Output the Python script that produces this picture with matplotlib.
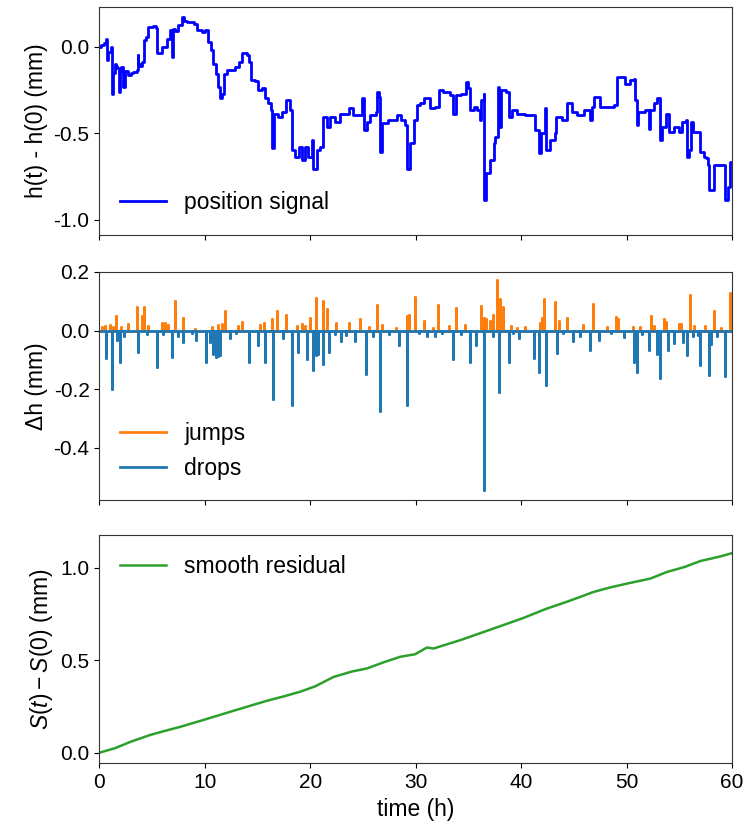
import numpy as np
import matplotlib
matplotlib.use("Agg")
import matplotlib.pyplot as plt

plt.rcParams["font.family"] = ["Liberation Sans", "DejaVu Sans"]
plt.rcParams["mathtext.fontset"] = "custom"
plt.rcParams["mathtext.rm"] = "Liberation Sans"
plt.rcParams["mathtext.it"] = "Liberation Sans:italic"
plt.rcParams["axes.unicode_minus"] = False
FS_TICK = 15
FS_TEXT = 16.5

# ---- position signal h(t) - h(0), mm ----
h_time = [0.0, 0.2, 0.45, 0.6, 0.68, 0.7, 0.85, 1.05, 1.11, 1.15, 1.17, 1.3, 1.49, 1.6, 1.7,
          1.9, 2.0, 2.06, 2.2, 2.28, 2.44, 2.75, 3.0, 3.23, 3.55, 3.64, 3.7, 3.85, 4.02, 4.27,
          4.4, 4.65, 5.13, 5.4, 5.44, 5.92, 6.39, 6.71, 6.85, 6.93, 7.02, 7.2, 7.43, 7.87, 8.0,
          8.29, 8.76, 9.0, 9.24, 9.71, 10.03, 10.28, 10.59, 10.82, 11.04, 11.23, 11.45, 11.67,
          11.86, 12.08, 12.5, 12.87, 13.25, 13.5, 13.98, 14.2, 14.39, 14.8, 15.09, 15.4, 15.72,
          16.04, 16.3, 16.42, 16.61, 16.9, 17.3, 17.68, 18.0, 18.09, 18.25, 18.56, 18.9, 19.2,
          19.5, 19.8, 20.15, 20.3, 20.62, 20.9, 21.25, 21.57, 21.9, 22.36, 22.84, 23.63, 24.1,
          24.89, 25.14, 25.4, 25.7, 26.2, 26.32, 26.5, 26.63, 26.83, 27.4, 28.2, 28.6, 29.0,
          29.16, 29.48, 29.8, 30.11, 30.43, 30.74, 30.9, 31.38, 31.85, 32.17, 32.6, 33.27,
          33.53, 33.84, 34.3, 34.8, 35.0, 35.17, 35.5, 35.8, 36.06, 36.18, 36.45, 36.5, 36.69,
          37.07, 37.39, 37.55, 37.76, 37.92, 38.1, 38.58, 38.81, 39.1, 39.6, 40.39, 41.2,
          41.34, 41.66, 41.9, 42.29, 42.38, 42.76, 43.2, 43.33, 43.87, 44.35, 44.8, 45.29,
          45.92, 46.4, 46.56, 46.7, 46.87, 47.35, 47.5, 48.3, 48.77, 49.09, 49.7, 49.88, 50.3,
          50.67, 50.82, 50.98, 51.1, 51.77, 52.09, 52.2, 52.56, 52.88, 53.13, 53.35, 53.77,
          54.0, 54.5, 54.94, 55.25, 55.6, 55.73, 55.95, 56.1, 56.3, 56.85, 57.0, 57.3, 57.57,
          57.7, 57.78, 58.1, 58.26, 59.2, 59.36, 59.6, 59.84, 60.0]
h_value = [0.0, 0.01, 0.02, 0.043, 0.043, -0.077, -0.03, -0.03, 0.0, 0.0, -0.27, -0.15, -0.096,
           -0.11, -0.12, -0.26, -0.14, -0.115, -0.14, -0.23, -0.14, -0.163, -0.15, -0.144,
           -0.135, -0.048, -0.1, -0.11, -0.085, 0.039, 0.06, 0.115, 0.12, 0.11, -0.038, 0.0,
           0.043, 0.096, 0.09, -0.058, 0.106, 0.09, 0.125, 0.173, 0.15, 0.144, 0.144, 0.135,
           0.096, 0.087, 0.096, 0.029, -0.019, -0.096, -0.154, -0.23, -0.298, -0.27, -0.154,
           -0.135, -0.135, -0.115, -0.087, -0.038, -0.048, -0.087, -0.192, -0.2, -0.25, -0.24,
           -0.298, -0.327, -0.365, -0.587, -0.385, -0.404, -0.375, -0.308, -0.308, -0.365,
           -0.597, -0.635, -0.58, -0.654, -0.58, -0.635, -0.539, -0.703, -0.597, -0.578,
           -0.404, -0.462, -0.404, -0.433, -0.385, -0.356, -0.394, -0.298, -0.481, -0.433,
           -0.394, -0.375, -0.26, -0.29, -0.606, -0.442, -0.423, -0.394, -0.423, -0.452,
           -0.703, -0.558, -0.423, -0.337, -0.327, -0.298, -0.298, -0.356, -0.35, -0.25, -0.26,
           -0.279, -0.385, -0.279, -0.27, -0.202, -0.24, -0.365, -0.346, -0.365, -0.423,
           -0.308, -0.27, -0.885, -0.731, -0.654, -0.558, -0.52, -0.231, -0.462, -0.25, -0.26,
           -0.404, -0.365, -0.385, -0.394, -0.394, -0.481, -0.616, -0.5, -0.356, -0.597,
           -0.539, -0.5, -0.404, -0.423, -0.327, -0.375, -0.394, -0.365, -0.365, -0.423,
           -0.346, -0.289, -0.292, -0.346, -0.346, -0.337, -0.173, -0.173, -0.212, -0.192,
           -0.183, -0.308, -0.452, -0.375, -0.365, -0.472, -0.365, -0.327, -0.298, -0.539,
           -0.462, -0.385, -0.49, -0.462, -0.49, -0.433, -0.423, -0.635, -0.597, -0.433, -0.49,
           -0.49, -0.606, -0.635, -0.645, -0.683, -0.827, -0.827, -0.683, -0.683, -0.885,
           -0.81, -0.664, -0.664]

# ---- detected jumps and drops, mm ----
jump_time = [0.23, 0.54, 1.0, 1.3, 1.58, 2.06, 2.75, 3.55, 4.02, 4.27, 4.65, 5.92, 6.23, 6.5,
             7.18, 7.97, 9.05, 10.7, 11.3, 11.61, 11.93, 13.19, 13.51, 15.25, 15.66, 16.35,
             16.83, 17.68, 18.72, 19.2, 19.5, 19.99, 20.5, 21.19, 21.57, 22.46, 23.63, 24.74,
             25.53, 26.32, 26.8, 28.1, 29.16, 29.38, 29.89, 30.74, 31.6, 32.1, 33.2, 33.84,
             34.7, 36.2, 36.5, 36.7, 37.0, 37.29, 37.7, 37.95, 38.27, 39.06, 39.6, 40.39, 41.8,
             41.97, 42.19, 43.17, 43.62, 44.35, 45.9, 46.81, 48.1, 49.03, 49.2, 50.6, 51.3,
             52.31, 52.6, 53.58, 53.7, 55.0, 55.2, 56.04, 56.4, 57.41, 58.26, 58.9, 59.84]
jump_size = [0.011, 0.016, 0.018, 0.013, 0.051, 0.011, 0.022, 0.079, 0.051, 0.079, 0.016,
             0.026, 0.026, 0.018, 0.099, 0.044, 0.006, 0.011, 0.018, 0.022, 0.065, 0.016,
             0.028, 0.018, 0.024, 0.04, 0.068, 0.054, 0.016, 0.022, 0.016, 0.044, 0.11, 0.102,
             0.074, 0.026, 0.025, 0.04, 0.011, 0.087, 0.02, 0.008, 0.051, 0.054, 0.113, 0.034,
             0.008, 0.088, 0.016, 0.077, 0.018, 0.085, 0.044, 0.04, 0.034, 0.054, 0.174, 0.108,
             0.079, 0.016, 0.008, 0.011, 0.026, 0.044, 0.106, 0.097, 0.034, 0.044, 0.018,
             0.091, 0.011, 0.047, 0.04, 0.011, 0.011, 0.05, 0.016, 0.04, 0.028, 0.022, 0.022,
             0.121, 0.016, 0.016, 0.068, 0.01, 0.127]

drop_time = [0.64, 1.17, 1.65, 1.93, 2.31, 3.7, 4.49, 5.44, 6.08, 6.93, 7.5, 7.97, 8.76, 9.14,
             10.09, 10.5, 10.82, 11.04, 11.23, 11.45, 12.4, 13.0, 14.2, 15.02, 15.72, 16.51,
             17.46, 18.31, 18.88, 19.73, 20.3, 20.56, 20.78, 21.25, 21.79, 22.36, 22.9, 23.4,
             24.2, 25.27, 25.94, 26.57, 27.5, 28.46, 29.13, 30.3, 31.06, 31.85, 32.5, 33.53,
             34.3, 35.11, 35.74, 36.43, 37.32, 37.86, 38.81, 39.2, 39.76, 41.18, 41.66, 42.38,
             43.39, 44.0, 44.91, 45.6, 46.56, 47.41, 48.5, 49.72, 50.67, 50.98, 51.5, 52.09,
             52.88, 53.2, 53.92, 54.52, 55.35, 55.73, 56.3, 56.8, 57.0, 57.78, 58.0, 58.6, 59.36]
drop_size = [-0.094, -0.201, -0.031, -0.108, -0.017, -0.072, -0.011, -0.125, -0.011, -0.091,
             -0.02, -0.04, -0.01, -0.034, -0.106, -0.04, -0.08, -0.091, -0.086, -0.083, -0.026,
             -0.01, -0.108, -0.049, -0.106, -0.235, -0.026, -0.253, -0.072, -0.097, -0.133,
             -0.085, -0.079, -0.114, -0.072, -0.011, -0.037, -0.015, -0.037, -0.148, -0.02,
             -0.275, -0.012, -0.05, -0.253, -0.01, -0.02, -0.02, -0.01, -0.097, -0.012, -0.106,
             -0.05, -0.543, -0.02, -0.21, -0.108, -0.01, -0.026, -0.094, -0.14, -0.185, -0.075,
             -0.008, -0.035, -0.02, -0.068, -0.031, -0.01, -0.023, -0.108, -0.142, -0.012,
             -0.068, -0.08, -0.163, -0.065, -0.042, -0.04, -0.085, -0.02, -0.015, -0.117,
             -0.153, -0.046, -0.02, -0.156]

# ---- smooth residual S(t) - S(0), mm ----
s_time = [0, 1.5, 3, 4.81, 6.2, 7.66, 10.03, 12.72, 15.88, 17.5, 19.04, 20.5, 22.2, 24,
          25.37, 27, 28.53, 29.95, 31.06, 31.7, 34.22, 37.38, 40.07, 42.44, 44.5, 46.87, 48.5,
          50.03, 52.24, 53.83, 55.5, 56.99, 58.89, 60]
s_value = [0, 0.025, 0.06, 0.096, 0.118, 0.14, 0.18, 0.227, 0.281, 0.305, 0.33, 0.36, 0.41,
           0.44, 0.456, 0.49, 0.519, 0.533, 0.569, 0.564, 0.609, 0.672, 0.726, 0.78, 0.82,
           0.87, 0.895, 0.915, 0.942, 0.978, 1.005, 1.037, 1.062, 1.08]

T_END = 60.0


def spike_series(times, sizes, t_end):
    """Zero baseline with a one-sample spike at each event time."""
    xs, ys = [0.0], [0.0]
    for t, v in zip(times, sizes):
        xs += [t, t, t]
        ys += [0.0, v, 0.0]
    xs.append(t_end)
    ys.append(0.0)
    return np.array(xs), np.array(ys)


fig = plt.figure(figsize=(7.45, 8.25), dpi=100)
left, width, height = 0.1333, 0.8494, 0.2772
ax1 = fig.add_axes([left, 0.7152, width, 0.2764])
ax2 = fig.add_axes([left, 0.3936, width, height])
ax3 = fig.add_axes([left, 0.0748, width, height])

# position signal (piecewise constant between samples)
ax1.plot(h_time, h_value, color="blue", lw=2, drawstyle="steps-post",
         label="position signal")
ax1.set_ylim(-1.087, 0.231)
ax1.set_yticks([-1.0, -0.5, 0.0])
ax1.set_ylabel("h(t) - h(0) (mm)", fontsize=FS_TEXT)
ax1.legend(loc="lower left", frameon=False, fontsize=FS_TEXT)

# jumps and drops
jx, jy = spike_series(jump_time, jump_size, T_END)
dx, dy = spike_series(drop_time, drop_size, T_END)
ax2.plot(jx, jy, color="#ff7f0e", lw=2, label="jumps")
ax2.plot(dx, dy, color="#1f77b4", lw=2, label="drops")
ax2.set_ylim(-0.579, 0.201)
ax2.set_yticks([-0.4, -0.2, 0.0, 0.2])
ax2.set_ylabel("Δh (mm)", fontsize=FS_TEXT)
ax2.legend(loc="lower left", frameon=False, fontsize=FS_TEXT)

# smooth residual
ax3.plot(s_time, s_value, color="#2ca02c", lw=1.8, label="smooth residual")
ax3.set_ylim(-0.057, 1.18)
ax3.set_yticks([0.0, 0.5, 1.0])
ax3.set_ylabel("$S(t) - S(0)$ (mm)", fontsize=FS_TEXT)
ax3.set_xlabel("time (h)", fontsize=FS_TEXT)
ax3.legend(loc="upper left", frameon=False, fontsize=FS_TEXT)

for ax in (ax1, ax2, ax3):
    ax.set_xlim(0, T_END)
    ax.set_xticks(np.arange(0, 61, 10))
    ax.tick_params(labelsize=FS_TICK)
    for sp in ax.spines.values():
        sp.set_color("#333333")
for ax in (ax1, ax2):
    ax.tick_params(labelbottom=False)

fig.savefig("out.png", dpi=100)
